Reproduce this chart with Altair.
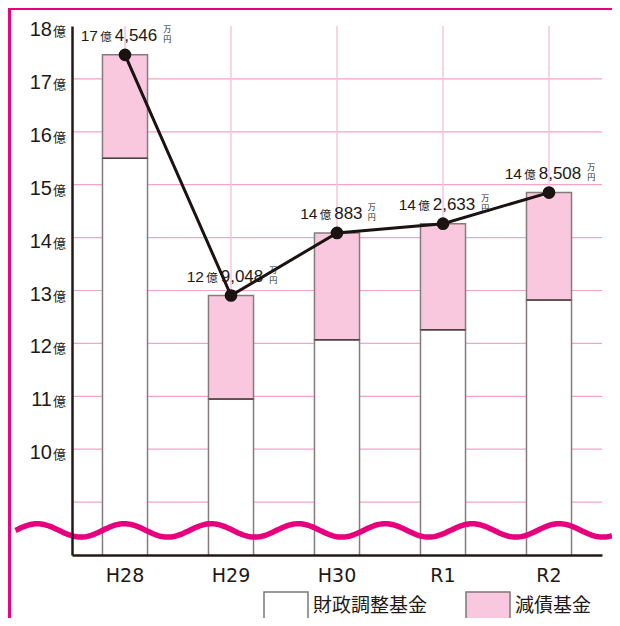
import altair as alt
import pandas as pd
import numpy as np

# ---- data (億円) ----
categories = ["H28", "H29", "H30", "R1", "R2"]
totals = [17.4546, 12.9048, 14.0883, 14.2633, 14.8508]      # 合計（折れ線・ラベル）
adjust_fund = [15.50, 10.95, 12.07, 12.26, 12.82]            # 財政調整基金
series_names = ["財政調整基金", "減債基金"]
y_tick_values = [10, 11, 12, 13, 14, 15, 16, 17, 18]
grid_values = [9, 10, 11, 12, 13, 14, 15, 16, 17]

debt_fund = [round(t - a, 4) for t, a in zip(totals, adjust_fund)]

W, H = 530, 529
INK = "#231815"
MAGENTA = "#e6007e"
PINK = "#f9c8de"
CJK = "Noto Sans CJK JP"
LAT = "Liberation Sans"

bars_df = pd.DataFrame(
    [{"cat": c, "fund": series_names[0], "value": a, "ord": 0} for c, a in zip(categories, adjust_fund)]
    + [{"cat": c, "fund": series_names[1], "value": d, "ord": 1} for c, d in zip(categories, debt_fund)]
)
tot_df = pd.DataFrame({"cat": categories, "total": totals, "adj": adjust_fund})
grid_df = pd.DataFrame({"v": grid_values})
ytick_df = pd.DataFrame({"v": y_tick_values, "label": [str(v) for v in y_tick_values]})

xs = alt.Scale(domain=categories, paddingInner=0.575)
ys = alt.Scale(domain=[8, 18], nice=False, zero=False)

x_axis = alt.Axis(title=None, labelAngle=0, ticks=False, grid=False,
                  domainColor=INK, domainWidth=2.5, labelFont="DejaVu Sans",
                  labelFontSize=19, labelColor=INK, labelPadding=11, zindex=1)
y_axis = alt.Axis(title=None, labels=False, ticks=False, grid=False,
                  domainColor=INK, domainWidth=2.5, zindex=1)

hgrid = alt.Chart(grid_df).mark_rule(color="#f4a3c9", strokeWidth=1.2).encode(
    x=alt.value(0), x2=alt.value(W), y=alt.Y("v:Q", scale=ys, axis=y_axis)
)
vgrid = alt.Chart(tot_df).mark_rule(color="#f8c6dc", strokeWidth=1.5).encode(
    x=alt.X("cat:N", scale=xs, sort=categories, bandPosition=0.5, axis=x_axis),
    y=alt.value(0), y2=alt.value(H)
)

bars = alt.Chart(bars_df).mark_bar(clip=True, stroke="#857b7b", strokeWidth=1.5).encode(
    x=alt.X("cat:N", scale=xs, sort=categories, axis=x_axis),
    y=alt.Y("value:Q", stack="zero", scale=ys, axis=y_axis),
    color=alt.Color("fund:N",
                    scale=alt.Scale(domain=series_names, range=["#ffffff", PINK]),
                    legend=alt.Legend(orient="none", legendX=191, legendY=557,
                                      direction="horizontal", title=None,
                                      symbolType="M-1,-0.636H1V0.636H-1Z", symbolSize=1936,
                                      symbolStrokeColor="#7d7575", symbolStrokeWidth=1.5,
                                      symbolOpacity=1, labelFont=CJK, labelFontSize=19,
                                      labelColor=INK, labelOffset=4, columnPadding=35,
                                      padding=0, labelLimit=300)),
    order=alt.Order("ord:Q"),
)

split = alt.Chart(tot_df).mark_tick(color="#3a2525", thickness=1.5, size=45).encode(
    x=alt.X("cat:N", scale=xs, sort=categories), y=alt.Y("adj:Q", scale=ys)
)

# wavy break marker (decoration, pixel space)
wx = np.linspace(-56.5, 540, 400)
wave_df = pd.DataFrame({"wx": wx, "wy": 504.4 - 6.7 * np.sin(2 * np.pi * (wx + 56.5) / 87.0)})
wave = alt.Chart(wave_df).mark_line(color=MAGENTA, strokeWidth=5.5).encode(
    x=alt.X("wx:Q", scale=None), y=alt.Y("wy:Q", scale=None),
    order="wx:Q"
)

line = alt.Chart(tot_df).mark_line(color="#1a1311", strokeWidth=3).encode(
    x=alt.X("cat:N", scale=xs, sort=categories), y=alt.Y("total:Q", scale=ys)
)
pts = alt.Chart(tot_df).mark_circle(color="#1a1311", size=160, opacity=1).encode(
    x=alt.X("cat:N", scale=xs, sort=categories), y=alt.Y("total:Q", scale=ys)
)

ynum = alt.Chart(ytick_df).mark_text(align="right", baseline="alphabetic", dy=10,
                                     fontSize=20, font=LAT, color=INK).encode(
    x=alt.value(-20), y=alt.Y("v:Q", scale=ys), text="label:N"
)
yoku = alt.Chart(ytick_df).mark_text(align="left", baseline="alphabetic", dy=10,
                                     fontSize=13, font=CJK, color=INK, text="億").encode(
    x=alt.value(-19), y=alt.Y("v:Q", scale=ys)
)

# value labels: 17億4,546万円
def tw(s, size):
    return sum(0.30 if ch in ",." else 0.58 for ch in s) * size

label_layers = []
for c, t in zip(categories, totals):
    oku = int(t)
    man = int(round((t - oku) * 10000))
    s1, s3 = str(oku), f"{man:,}"
    f1, f2, f3, f4 = 15.5, 11.5, 17, 8
    w1, w2, w3, w4 = tw(s1, f1), f2, tw(s3, f3), f4
    g1, g2, g3 = 1.5, 3, 4
    total_w = w1 + g1 + w2 + g2 + w3 + g3 + w4
    x1 = -total_w / 2 + 1
    x2 = x1 + w1 + g1
    x3 = x2 + w2 + g2
    x4 = x3 + w3 + g3
    base = alt.Chart(tot_df).transform_filter(alt.datum.cat == c)
    enc = dict(x=alt.X("cat:N", scale=xs, sort=categories), y=alt.Y("total:Q", scale=ys))
    pieces = [
        (s1, x1, -14, f1, LAT),
        ("億", x2, -14, f2, CJK),
        (s3, x3, -14, f3, LAT),
        ("万", x4, -23, f4, CJK),
        ("円", x4, -13, f4, CJK),
    ]
    for txt, dx, dy, fs, fnt in pieces:
        label_layers.append(
            base.mark_text(align="left", baseline="alphabetic", dx=dx, dy=dy,
                           fontSize=fs, font=fnt, color=INK, text=txt).encode(**enc)
        )

top_band = alt.Chart(tot_df).mark_rule(color=MAGENTA, strokeWidth=2).encode(
    x=alt.value(-64), x2=alt.value(W + 10), y=alt.value(-17)
)
left_line = alt.Chart(tot_df).mark_rule(color=MAGENTA, strokeWidth=2).encode(
    x=alt.value(-62.5), y=alt.value(-18), y2=alt.value(H + 64)
)

chart = alt.layer(
    hgrid, vgrid, bars, split, wave, line, pts, ynum, yoku, *label_layers, top_band, left_line
).properties(
    width=W, height=H, autosize="none",
    padding={"left": 64, "top": 18, "right": 10, "bottom": 63},
    background="white",
).configure_view(stroke=None)

chart.save("out.html", embed_options={"renderer": "svg", "actions": False})
